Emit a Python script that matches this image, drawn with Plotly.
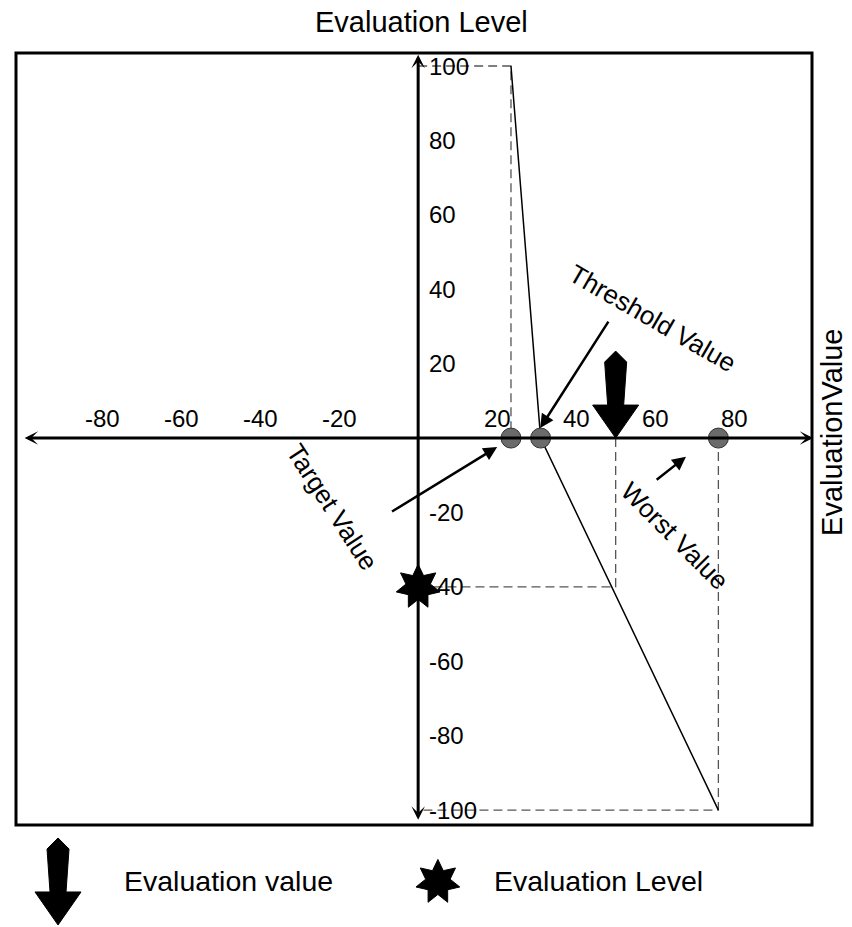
import math

import plotly.graph_objects as go

# values
x_ticks = [-80, -60, -40, -20, 20, 40, 60, 80]
y_ticks = [100, 80, 60, 40, 20, -20, -40, -60, -80, -100]

target_value = 23.5
threshold_value = 31
worst_value = 76
evaluation_value = 50
evaluation_level = -40
level_max = 100
level_min = -100

curve_x = [target_value, threshold_value, worst_value]
curve_y = [level_max, 0, level_min]
point_x = [target_value, threshold_value, worst_value]
point_y = [0, 0, 0]

FONT = "Arial, Liberation Sans, sans-serif"
ARROW = "M0,0L-23,33L-8,33L-11,76L0,87L11,76L8,33L23,33Z"


def star_path(r_out, r_in, n=7):
    pts = []
    for i in range(2 * n):
        r = r_out if i % 2 == 0 else r_in
        a = math.pi / 2 + i * math.pi / n
        pts.append(f"{r * math.cos(a):.1f},{r * math.sin(a):.1f}")
    return "M" + "L".join(pts) + "Z"


fig = go.Figure()

# dashed guide lines
dash_x = [0, target_value, target_value, None,
          evaluation_value, evaluation_value, 0, None,
          worst_value, worst_value, 0]
dash_y = [level_max, level_max, 0, None,
          0, evaluation_level, evaluation_level, None,
          0, level_min, level_min]
fig.add_trace(go.Scatter(x=dash_x, y=dash_y, mode="lines",
                         line=dict(color="#555555", width=1.3, dash="9px,5px"),
                         hoverinfo="skip"))

# evaluation curve
fig.add_trace(go.Scatter(x=curve_x, y=curve_y, mode="lines",
                         line=dict(color="black", width=1.5), hoverinfo="skip"))

# axes (double-headed arrows)
fig.add_annotation(x=100, y=0, ax=-100, ay=0, xref="x", yref="y", axref="x", ayref="y",
                   text="", showarrow=True, arrowside="end+start", arrowhead=3,
                   startarrowhead=3, arrowwidth=3, arrowsize=0.75, startarrowsize=0.75,
                   arrowcolor="black")
fig.add_annotation(x=0, y=103, ax=0, ay=-103, xref="x", yref="y", axref="x", ayref="y",
                   text="", showarrow=True, arrowside="end+start", arrowhead=3,
                   startarrowhead=3, arrowwidth=3, arrowsize=0.75, startarrowsize=0.75,
                   arrowcolor="black")

# marked values on the axis
fig.add_trace(go.Scatter(x=point_x, y=point_y, mode="markers",
                         marker=dict(size=20, color="#6b6b6b",
                                     line=dict(color="#333333", width=1)),
                         hoverinfo="skip"))

# evaluation value arrow and evaluation level star
fig.add_shape(type="path", xref="x", yref="y", xsizemode="pixel", ysizemode="pixel",
              xanchor=evaluation_value, yanchor=0, path=ARROW,
              fillcolor="black", line=dict(color="black", width=1))
fig.add_shape(type="path", xref="x", yref="y", xsizemode="pixel", ysizemode="pixel",
              xanchor=0, yanchor=evaluation_level, path=star_path(22.5, 12.5),
              fillcolor="black", line=dict(color="black", width=1))

# tick labels
for v in x_ticks:
    fig.add_annotation(x=v, y=0, text=str(v), showarrow=False, yanchor="middle",
                       yshift=20, font=dict(size=24, family=FONT, color="black"))
for v in y_ticks:
    fig.add_annotation(x=0, y=v, text=str(v), showarrow=False, xanchor="left",
                       xshift=9, font=dict(size=24, family=FONT, color="black"))

# callouts
callouts = [
    ("Target Value", -21.8, -18.6, 57, (20, -2.4), (-7, -20)),
    ("Threshold Value", 59.2, 32.2, 30, (30.9, 2.7), (48.4, 31.7)),
    ("Worst Value", 65, -26.4, 45, (67.8, -5), (60, -11.5)),
]
for text, tx, ty, ang, head, tail in callouts:
    fig.add_annotation(x=tx, y=ty, text=text, showarrow=False, textangle=ang,
                       font=dict(size=26, family=FONT, color="black"))
    fig.add_annotation(x=head[0], y=head[1], ax=tail[0], ay=tail[1],
                       xref="x", yref="y", axref="x", ayref="y", text="",
                       showarrow=True, arrowhead=2, arrowwidth=2.5, arrowsize=1.1,
                       arrowcolor="black")

# axis titles
fig.add_annotation(x=0.51, y=1.04, xref="paper", yref="paper", text="Evaluation Level",
                   showarrow=False, xanchor="center", yanchor="middle",
                   font=dict(size=29, family=FONT, color="black"))
fig.add_annotation(x=1.025, y=0.509, xref="paper", yref="paper", text="EvaluationValue",
                   showarrow=False, textangle=-90, xanchor="center", yanchor="middle",
                   font=dict(size=29, family=FONT, color="black"))

# legend row below the frame
fig.add_shape(type="path", xref="paper", yref="paper", xsizemode="pixel", ysizemode="pixel",
              xanchor=0.0528, yanchor=-0.1295, path=ARROW,
              fillcolor="black", line=dict(color="black", width=1))
fig.add_annotation(x=0.133, y=-0.0725, xref="paper", yref="paper", text="Evaluation value",
                   showarrow=False, xanchor="left", yanchor="middle",
                   font=dict(size=28.5, family=FONT, color="black"))
fig.add_shape(type="path", xref="paper", yref="paper", xsizemode="pixel", ysizemode="pixel",
              xanchor=0.530, yanchor=-0.0738, path=star_path(22.5, 12.5),
              fillcolor="black", line=dict(color="black", width=1))
fig.add_annotation(x=0.598, y=-0.0725, xref="paper", yref="paper", text="Evaluation Level",
                   showarrow=False, xanchor="left", yanchor="middle",
                   font=dict(size=28.5, family=FONT, color="black"))

# frame
fig.add_shape(type="rect", xref="paper", yref="paper", x0=0, y0=0, x1=1, y1=1,
              line=dict(color="black", width=3))

fig.update_xaxes(range=[-101.8, 99.7], visible=False, fixedrange=True)
fig.update_yaxes(range=[-104.0, 103.5], visible=False, fixedrange=True)
fig.update_layout(width=852, height=927, margin=dict(l=8, r=48, t=45, b=110),
                  plot_bgcolor="white", paper_bgcolor="white", showlegend=False)

fig.write_html("out.html")
